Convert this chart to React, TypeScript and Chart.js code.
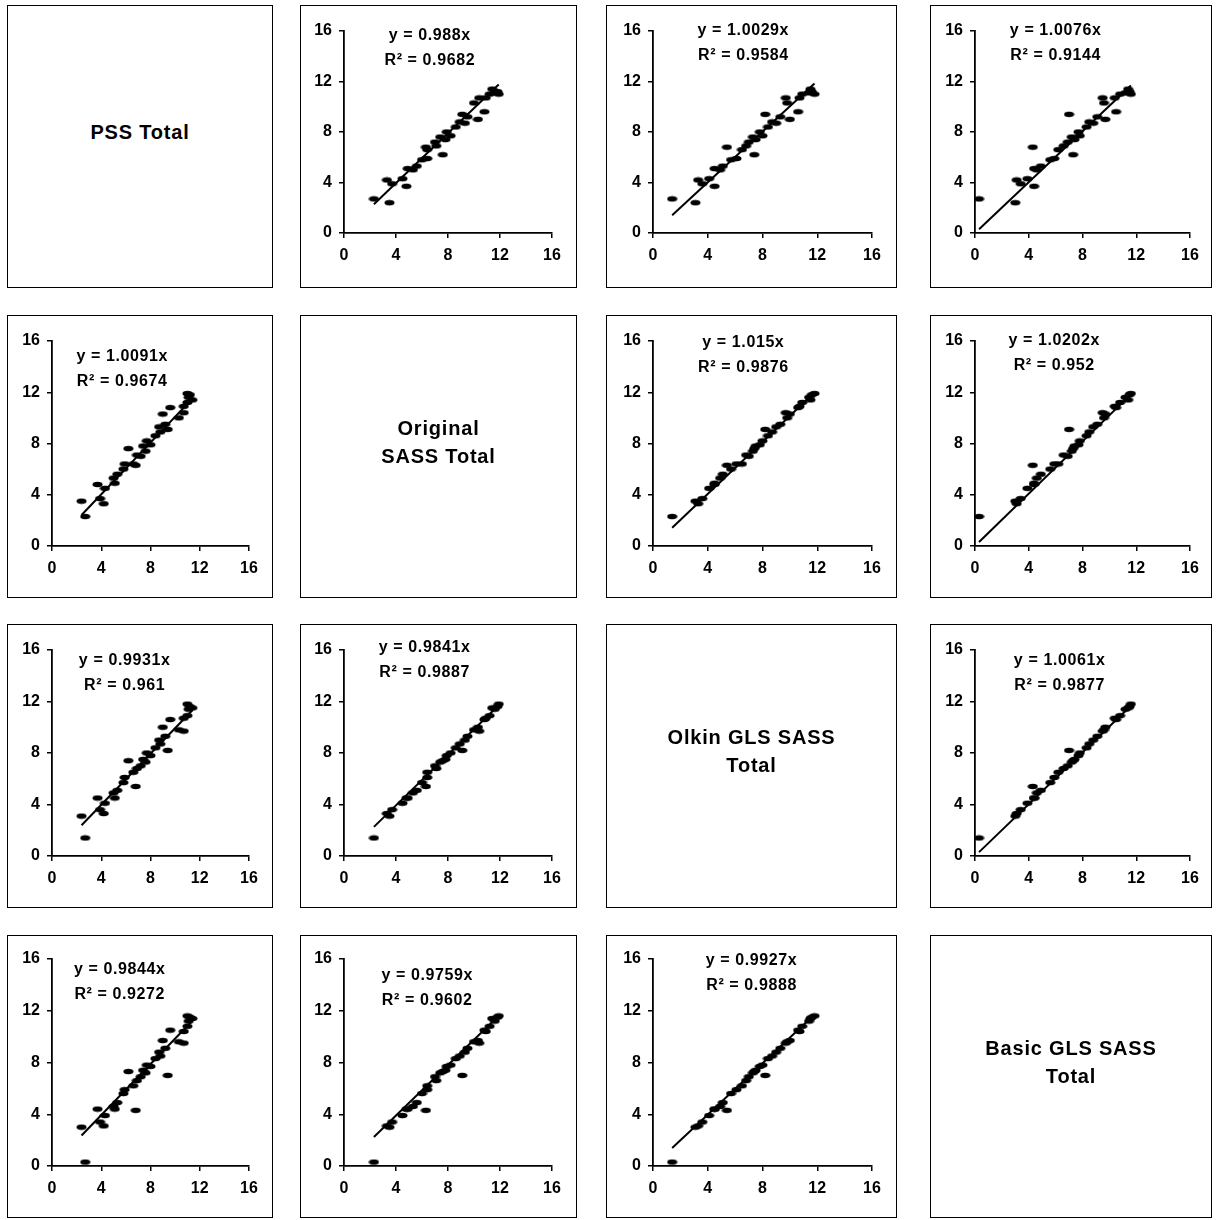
import React, { useEffect, useRef } from "react";
import { Chart, registerables } from "chart.js";
Chart.register(...registerables);

// ---- data (one value per subject) ----
const variableNames = ["PSS Total", "Original\nSASS Total", "Olkin GLS SASS\nTotal", "Basic GLS SASS\nTotal"];

const pssTotal = [2.7, 2.4, 4.2, 3.9, 3.7, 4.3, 5.1, 5.0, 5.3, 5.8, 5.9, 6.8, 6.6, 6.9, 7.2, 6.2, 7.6, 7.4, 8.0, 7.7, 8.4, 8.8, 9.4, 8.7, 9.2, 9.0, 10.3, 10.7, 9.6, 10.7, 11.0, 11.1, 11.2, 11.4, 11.0];
const originalSass = [2.3, 3.5, 3.3, 3.7, 4.8, 4.5, 4.9, 5.3, 5.6, 6.0, 6.4, 6.3, 6.4, 7.1, 7.0, 7.6, 7.4, 7.8, 7.9, 8.2, 8.6, 8.9, 9.1, 9.3, 9.5, 10.3, 10.0, 10.4, 10.8, 10.9, 11.2, 11.6, 11.8, 11.4, 11.9];
const olkinGls = [1.4, 3.1, 3.3, 3.6, 4.5, 4.1, 4.5, 4.9, 5.1, 5.7, 6.1, 5.4, 6.5, 6.8, 7.0, 7.4, 7.3, 7.5, 7.8, 8.0, 8.4, 8.7, 8.2, 9.0, 9.3, 10.0, 9.8, 9.7, 10.6, 10.7, 10.9, 11.4, 11.6, 11.5, 11.8];
const basicGls = [0.3, 3.0, 3.1, 3.4, 4.4, 3.9, 4.4, 4.6, 4.9, 5.6, 5.9, 4.3, 6.2, 6.6, 6.9, 7.3, 7.2, 7.4, 7.7, 7.8, 8.3, 8.5, 7.0, 8.8, 9.1, 9.7, 9.6, 9.5, 10.5, 10.4, 10.8, 11.2, 11.5, 11.4, 11.6];

// off-diagonal panels in row-major order
const slopeLabels = ["0.988", "1.0029", "1.0076", "1.0091", "1.015", "1.0202", "0.9931", "0.9841", "1.0061", "0.9844", "0.9759", "0.9927"];
const r2Labels = ["0.9682", "0.9584", "0.9144", "0.9674", "0.9876", "0.952", "0.961", "0.9887", "0.9877", "0.9272", "0.9602", "0.9888"];

const axisMin = 0;
const axisMax = 16;
const axisStep = 4;

// ---- layout (page pixels) ----
const COL_BOX = [[7, 273], [300, 577], [606, 897], [930, 1212]];
const ROW_BOX = [[5, 288], [315, 598], [624, 908], [935, 1218]];
const COL_AXIS = [[52, 249], [344, 552], [653, 872], [975, 1190]];
const ROW_AXIS = [[31, 233], [341, 546], [650, 856], [959, 1166]];
const EQ_ANCHOR = [[6.6, 15.6], [6.6, 16.0], [6.0, 16.0], [5.7, 14.8], [6.6, 15.85], [5.9, 16.0], [5.9, 15.2], [6.2, 16.15], [6.3, 15.2], [5.5, 15.2], [6.4, 14.75], [7.2, 15.9]];

const FONT = "'Liberation Sans', Arial, sans-serif";
const variables = [pssTotal, originalSass, olkinGls, basicGls];

let markerCanvas: HTMLCanvasElement | null = null;
function getMarker() {
  if (markerCanvas) return markerCanvas;
  const c = document.createElement("canvas");
  c.width = 11;
  c.height = 7;
  const ctx = c.getContext("2d")!;
  ctx.fillStyle = "#000";
  ctx.beginPath();
  ctx.ellipse(5.5, 3.5, 5.0, 2.8, 0, 0, Math.PI * 2);
  ctx.fill();
  markerCanvas = c;
  return c;
}

function ScatterPanel({ row, col, idx }: { row: number; col: number; idx: number }) {
  const ref = useRef<HTMLCanvasElement>(null);
  const left = COL_BOX[col][0];
  const top = ROW_BOX[row][0];
  const w = COL_BOX[col][1] - COL_BOX[col][0];
  const h = ROW_BOX[row][1] - ROW_BOX[row][0];

  useEffect(() => {
    const xs = variables[col];
    const ys = variables[row];
    const slope = parseFloat(slopeLabels[idx]);
    const minX = Math.min(...xs);
    const maxX = Math.max(...xs);
    const leftW = COL_AXIS[col][0] - left;
    const rightPad = COL_BOX[col][1] - COL_AXIS[col][1];
    const topPad = ROW_AXIS[row][0] - top;
    const bottomH = ROW_BOX[row][1] - ROW_AXIS[row][1];
    const [ax, ay] = EQ_ANCHOR[idx];

    const tickFont = { family: FONT, size: 16, weight: "bold" as const };
    const gridOpts = { display: true, drawOnChartArea: false, drawTicks: true, tickLength: 5, color: "#000", lineWidth: 1.5 };

    const eqPlugin = {
      id: "eq",
      afterDraw(chart: any) {
        const c = chart.ctx;
        const px = chart.scales.x.getPixelForValue(ax);
        const py = chart.scales.y.getPixelForValue(ay);
        c.save();
        c.fillStyle = "#000";
        c.font = `bold 16px ${FONT}`;
        try { (c as any).letterSpacing = "0.6px"; } catch (e) {}
        c.textAlign = "center";
        c.textBaseline = "middle";
        c.fillText(`y = ${slopeLabels[idx]}x`, px, py);
        c.fillText(`R\u00B2 = ${r2Labels[idx]}`, px, py + 25);
        c.restore();
      },
    };

    const chart = new Chart(ref.current!, {
      type: "scatter",
      data: {
        datasets: [
          {
            type: "line",
            data: [
              { x: minX, y: slope * minX },
              { x: maxX, y: slope * maxX },
            ],
            borderColor: "#000",
            borderWidth: 2,
            pointRadius: 0,
            showLine: true,
            fill: false,
          } as any,
          {
            data: xs.map((x, i) => ({ x, y: ys[i] })),
            pointStyle: getMarker() as any,
            pointRadius: 5,
            backgroundColor: "#000",
            borderColor: "#000",
          },
        ],
      },
      options: {
        responsive: false,
        animation: false,
        events: [],
        layout: { padding: { top: topPad, right: rightPad, left: 0, bottom: 0 } },
        plugins: { legend: { display: false }, tooltip: { enabled: false } },
        scales: {
          x: {
            type: "linear",
            min: axisMin,
            max: axisMax,
            ticks: { stepSize: axisStep, color: "#000", font: tickFont, padding: 8, maxRotation: 0 },
            grid: gridOpts,
            border: { display: true, color: "#000", width: 1.8 },
            afterFit: (s: any) => { s.height = bottomH; },
          },
          y: {
            type: "linear",
            min: axisMin,
            max: axisMax,
            ticks: { stepSize: axisStep, color: "#000", font: tickFont, padding: 7 },
            grid: gridOpts,
            border: { display: true, color: "#000", width: 1.8 },
            afterFit: (s: any) => { s.width = leftW; },
          },
        },
      },
      plugins: [eqPlugin],
    });
    return () => chart.destroy();
  }, []);

  return (
    <div style={{ position: "absolute", left, top, width: w, height: h }}>
      <canvas ref={ref} width={w} height={h} style={{ display: "block" }} />
      <div style={{ position: "absolute", left: 0, top: 0, right: 0, bottom: 0, border: "1px solid #000", boxSizing: "border-box", pointerEvents: "none" }} />
    </div>
  );
}

function LabelPanel({ index }: { index: number }) {
  const left = COL_BOX[index][0];
  const top = ROW_BOX[index][0];
  const w = COL_BOX[index][1] - COL_BOX[index][0];
  const h = ROW_BOX[index][1] - ROW_BOX[index][0];
  return (
    <div
      style={{
        position: "absolute", left, top, width: w, height: h, border: "1px solid #000", boxSizing: "border-box",
        display: "flex", alignItems: "center", justifyContent: "center", paddingBottom: 30,
        fontFamily: FONT, fontWeight: "bold", fontSize: 20, letterSpacing: "0.8px", lineHeight: "28px",
        whiteSpace: "pre-line", textAlign: "center", color: "#000",
      }}
    >
      {variableNames[index]}
    </div>
  );
}

export default function App() {
  const cells: React.ReactNode[] = [];
  let k = 0;
  for (let r = 0; r < 4; r++) {
    for (let c = 0; c < 4; c++) {
      if (r === c) {
        cells.push(<LabelPanel key={`l${r}`} index={r} />);
      } else {
        cells.push(<ScatterPanel key={`p${r}${c}`} row={r} col={c} idx={k} />);
        k++;
      }
    }
  }
  return (
    <div style={{ position: "absolute", left: 0, top: 0, width: 1216, height: 1220, background: "#fff" }}>
      {cells}
    </div>
  );
}
